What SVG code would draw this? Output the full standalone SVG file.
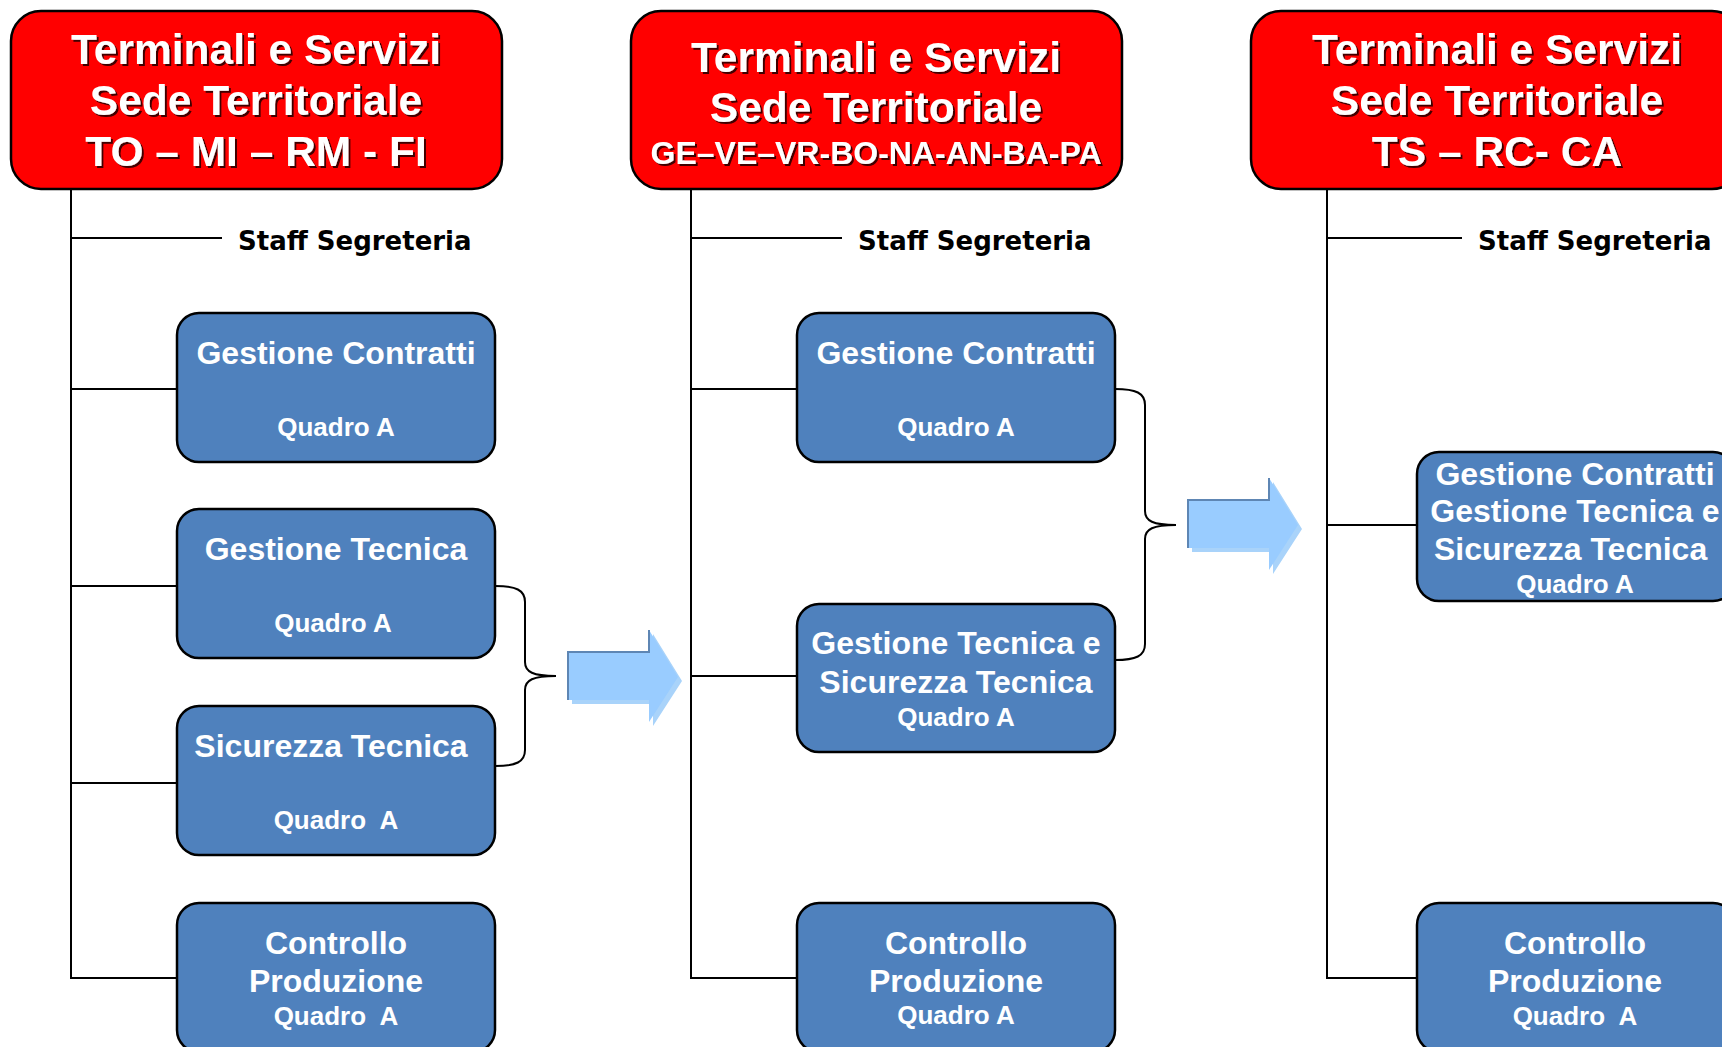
<svg xmlns="http://www.w3.org/2000/svg" width="1722" height="1047" viewBox="0 0 1722 1047">
<defs>
<style>
.red{fill:#FF0000;stroke:#000;stroke-width:2.5}
.blue{fill:#4F81BD;stroke:#000;stroke-width:2.5}
.ttl{font-family:"Liberation Sans",Arial,sans-serif;font-weight:bold;font-size:42.5px;fill:#fff;text-anchor:middle;filter:url(#sh)}
.ttl2{font-size:32px}
.bt{font-family:"Liberation Sans",Arial,sans-serif;font-weight:bold;font-size:32px;fill:#fff;text-anchor:middle;white-space:pre}
.q{font-size:26px}
.staff{font-family:"DejaVu Sans",Verdana,sans-serif;font-weight:bold;font-size:26px;fill:#000}
.ln{stroke:#000;stroke-width:2;fill:none}
.arr{fill:#99CCFF}
.arrs{fill:#A9D3FA}
.arre{stroke:#5E86B4;stroke-width:2;fill:none}
</style>
<filter id="sh" x="-5%" y="-20%" width="110%" height="140%">
<feDropShadow dx="2" dy="2" stdDeviation="0.4" flood-color="#000" flood-opacity="0.75"/>
</filter>
</defs>
<rect width="1722" height="1047" fill="#fff"/>

<g id="connectors">
<path class="ln" d="M71,189 V978 H177 M71,238 H222 M71,389 H177 M71,586 H177 M71,783 H177"/>
<path class="ln" d="M691,189 V978 H797 M691,238 H842 M691,389 H797 M691,676 H797"/>
<path class="ln" d="M1327,189 V978 H1417 M1327,238 H1462 M1327,525 H1417"/>
<path class="ln" d="M495,586 C516,586 525,590 525,602 L525,662 C525,672 533,676 556,676 C533,676 525,680 525,690 L525,750 C525,762 516,766 495,766"/>
<path class="ln" d="M1115,389 C1136,389 1145,393 1145,405 L1145,511 C1145,521 1153,525 1176,525 C1153,525 1145,529 1145,539 L1145,644 C1145,656 1136,660 1115,660"/>
</g>

<g id="arrow1">
<polygon class="arrs" points="572,656 653,656 653,634 682,681 653,726 653,704 572,704"/>
<polygon class="arr" points="568,652 649,652 649,630 678,677 649,722 649,700 568,700"/>
<polyline class="arre" points="568,700 568,652 649,652 649,630"/>
</g>
<g id="arrow2">
<polygon class="arrs" points="1192,504 1273,504 1273,482 1302,529 1273,574 1273,552 1192,552"/>
<polygon class="arr" points="1188,500 1269,500 1269,478 1298,525 1269,570 1269,548 1188,548"/>
<polyline class="arre" points="1188,548 1188,500 1269,500 1269,478"/>
</g>

<g id="head1">
<rect class="red" x="11" y="11" width="491" height="178" rx="30"/>
<text class="ttl" x="256" y="64">Terminali e Servizi</text>
<text class="ttl" x="256" y="115">Sede Territoriale</text>
<text class="ttl" x="256" y="166">TO – MI – RM - FI</text>
</g>
<g id="head2">
<rect class="red" x="631" y="11" width="491" height="178" rx="30"/>
<text class="ttl" x="876" y="72">Terminali e Servizi</text>
<text class="ttl" x="876" y="122">Sede Territoriale</text>
<text class="ttl ttl2" x="876" y="164">GE–VE–VR-BO-NA-AN-BA-PA</text>
</g>
<g id="head3">
<rect class="red" x="1251" y="11" width="491" height="178" rx="30"/>
<text class="ttl" x="1497" y="64">Terminali e Servizi</text>
<text class="ttl" x="1497" y="115">Sede Territoriale</text>
<text class="ttl" x="1497" y="166">TS – RC- CA</text>
</g>

<g id="staff1"><text class="staff" x="238" y="250">Staff Segreteria</text></g>
<g id="staff2"><text class="staff" x="858" y="250">Staff Segreteria</text></g>
<g id="staff3"><text class="staff" x="1478" y="250">Staff Segreteria</text></g>

<g id="c1-contratti">
<rect class="blue" x="177" y="313" width="318" height="149" rx="22"/>
<text class="bt" x="336" y="364">Gestione Contratti</text>
<text class="bt q" x="336" y="436">Quadro A</text>
</g>
<g id="c1-tecnica">
<rect class="blue" x="177" y="509" width="318" height="149" rx="22"/>
<text class="bt" x="336" y="560">Gestione Tecnica</text>
<text class="bt q" x="333" y="632">Quadro A</text>
</g>
<g id="c1-sicurezza">
<rect class="blue" x="177" y="706" width="318" height="149" rx="22"/>
<text class="bt" x="331" y="757">Sicurezza Tecnica</text>
<text class="bt q" x="336" y="829">Quadro  A</text>
</g>
<g id="c1-controllo">
<rect class="blue" x="177" y="903" width="318" height="149" rx="22"/>
<text class="bt" x="336" y="954">Controllo</text>
<text class="bt" x="336" y="992">Produzione</text>
<text class="bt q" x="336" y="1025">Quadro  A</text>
</g>

<g id="c2-contratti">
<rect class="blue" x="797" y="313" width="318" height="149" rx="22"/>
<text class="bt" x="956" y="364">Gestione Contratti</text>
<text class="bt q" x="956" y="436">Quadro A</text>
</g>
<g id="c2-tecnica-sicurezza">
<rect class="blue" x="797" y="604" width="318" height="148" rx="22"/>
<text class="bt" x="956" y="654">Gestione Tecnica e</text>
<text class="bt" x="956" y="693">Sicurezza Tecnica</text>
<text class="bt q" x="956" y="726">Quadro A</text>
</g>
<g id="c2-controllo">
<rect class="blue" x="797" y="903" width="318" height="149" rx="22"/>
<text class="bt" x="956" y="954">Controllo</text>
<text class="bt" x="956" y="992">Produzione</text>
<text class="bt q" x="956" y="1024">Quadro A</text>
</g>

<g id="c3-unificato">
<rect class="blue" x="1417" y="452" width="318" height="149" rx="22"/>
<text class="bt" x="1575" y="485">Gestione Contratti</text>
<text class="bt" x="1575" y="522">Gestione Tecnica e</text>
<text class="bt" x="1575" y="560">Sicurezza Tecnica </text>
<text class="bt q" x="1575" y="593">Quadro A</text>
</g>
<g id="c3-controllo">
<rect class="blue" x="1417" y="903" width="318" height="149" rx="22"/>
<text class="bt" x="1575" y="954">Controllo</text>
<text class="bt" x="1575" y="992">Produzione</text>
<text class="bt q" x="1575" y="1025">Quadro  A</text>
</g>
</svg>
